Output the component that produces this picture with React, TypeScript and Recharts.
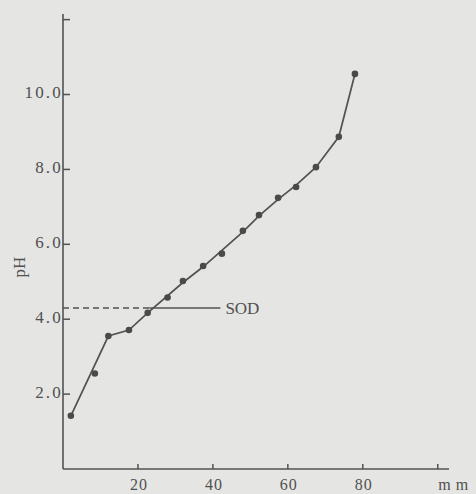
import React from 'react';
import { ComposedChart, Line, Scatter, XAxis, YAxis, ReferenceLine, ReferenceDot, Label } from 'recharts';

// measured points (distance in mm, pH)
const pointMm = [2.1, 8.5, 12.1, 17.6, 22.6, 27.9, 32.0, 37.4, 42.4, 48.0, 52.3, 57.4, 62.2, 67.5, 73.6, 77.9];
const pointPh = [1.42, 2.55, 3.55, 3.71, 4.17, 4.58, 5.02, 5.42, 5.75, 6.36, 6.78, 7.24, 7.53, 8.06, 8.87, 10.55];

// hand-drawn curve vertices
const curveMm = [2.1, 12.1, 17.6, 22.6, 32.0, 37.4, 48.0, 52.3, 57.4, 62.2, 67.5, 73.6, 77.9];
const curvePh = [1.42, 3.55, 3.71, 4.17, 4.98, 5.4, 6.33, 6.76, 7.2, 7.58, 8.06, 8.87, 10.55];

// SOD level
const sodPh = 4.3;
const sodDashEndMm = 23;
const sodSolidEndMm = 42;
const sodText = 'SOD';

const xTicks = [20, 40, 60, 80, 100];
const xTickLabels = ['20', '40', '60', '80', 'mm'];
const yTicks = [2, 4, 6, 8, 10, 12];
const yTickLabels = ['2.0', '4.0', '6.0', '8.0', '10.0', ''];

const points = pointMm.map((x, i) => ({ x, y: pointPh[i] }));
const curve = curveMm.map((x, i) => ({ x, y: curvePh[i] }));

const INK = '#525252';
const TEXT = '#505050';
const FONT = '"Liberation Serif", "DejaVu Serif", serif';

const XTick = (props: any) => {
  const { x, y, payload } = props;
  const idx = xTicks.indexOf(payload.value);
  const label = xTickLabels[idx] ?? '';
  const isUnit = label === 'mm';
  return (
    <text
      x={x + (isUnit ? 18 : 1)}
      y={y}
      dy={8}
      textAnchor="middle"
      fill={TEXT}
      fontSize={16}
      fontFamily={FONT}
      letterSpacing={isUnit ? 5 : 1}
    >
      {label}
    </text>
  );
};

const YTick = (props: any) => {
  const { x, y, payload } = props;
  const idx = yTicks.indexOf(payload.value);
  const label = yTickLabels[idx] ?? '';
  return (
    <text
      x={x}
      y={y}
      dy={3.5}
      textAnchor="end"
      fill={TEXT}
      fontSize={17}
      fontFamily={FONT}
      letterSpacing={2.2}
    >
      {label}
    </text>
  );
};

const PhLabel = () => (
  <text
    transform="translate(19,267) rotate(-90)"
    textAnchor="middle"
    dominantBaseline="central"
    fill={TEXT}
    fontSize={17}
    fontFamily={FONT}
  >
    pH
  </text>
);

const Dot = (props: any) => <circle cx={props.cx} cy={props.cy} r={3.3} fill="#4a4a4a" />;

export default function App() {
  return (
    <div style={{ position: 'absolute', left: 0, top: 0, width: 476, height: 494, background: '#e5e5e3' }}>
      <ComposedChart width={476} height={494} margin={{ top: 14, right: 27, bottom: 0, left: 0 }}>
        <XAxis
          dataKey="x"
          type="number"
          domain={[0, 103]}
          ticks={xTicks}
          interval={0}
          allowDataOverflow
          height={25}
          stroke={INK}
          strokeWidth={1.6}
          tickLine={{ stroke: INK, strokeWidth: 1.5 }}
          tickSize={-5}
          tickMargin={18}
          tick={<XTick />}
        />
        <YAxis
          dataKey="y"
          type="number"
          domain={[0, 12.15]}
          ticks={yTicks}
          interval={0}
          allowDataOverflow
          width={63}
          stroke={INK}
          strokeWidth={1.6}
          tickLine={{ stroke: INK, strokeWidth: 1.5 }}
          tickSize={-7}
          tickMargin={7}
          tick={<YTick />}
        >
          <Label content={<PhLabel />} />
        </YAxis>
        <ReferenceLine
          segment={[{ x: 0, y: sodPh }, { x: sodDashEndMm, y: sodPh }]}
          stroke={INK}
          strokeWidth={1.4}
          strokeDasharray="6 4"
        />
        <ReferenceLine
          segment={[{ x: sodDashEndMm, y: sodPh }, { x: sodSolidEndMm, y: sodPh }]}
          stroke={INK}
          strokeWidth={1.4}
        />
        <ReferenceDot
          x={sodSolidEndMm}
          y={sodPh}
          r={0}
          fill="none"
          stroke="none"
          label={{ value: sodText, position: 'right', offset: 5, fill: TEXT, fontSize: 17, fontFamily: FONT }}
        />
        <Line
          data={curve}
          dataKey="y"
          type="linear"
          stroke={INK}
          strokeWidth={1.7}
          dot={false}
          activeDot={false}
          isAnimationActive={false}
        />
        <Scatter data={points} dataKey="y" shape={<Dot />} isAnimationActive={false} />
      </ComposedChart>
    </div>
  );
}
